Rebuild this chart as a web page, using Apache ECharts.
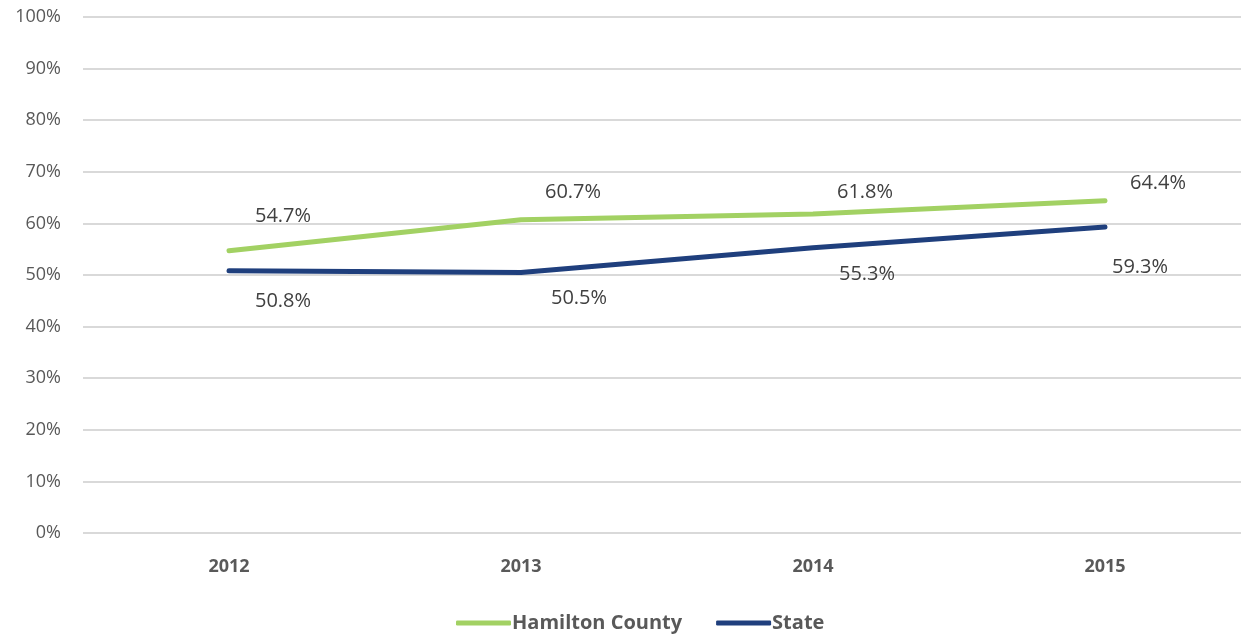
<!DOCTYPE html>
<html>
<head>
<meta charset="utf-8">
<script src="https://cdn.jsdelivr.net/npm/echarts@6/dist/echarts.min.js"></script>
<style>
  html, body { margin: 0; padding: 0; background: #fff; }
  #chart { width: 1241px; height: 635px; }
</style>
</head>
<body>
<div id="chart"></div>
<script>
// data
var years = ['2012', '2013', '2014', '2015'];
var hamilton = [54.7, 60.7, 61.8, 64.4];
var state = [50.8, 50.5, 55.3, 59.3];

// label offsets (layout only)
var hamiltonOffsets = [[54, -34], [52, -27], [52, -22], [53, -17]];
var stateOffsets = [[54, 30], [58, 26], [54, 27], [35, 40]];

var font = '"Open Sans", "Liberation Sans", sans-serif';

function withOffsets(values, offsets) {
    return values.map(function (v, i) {
        return { value: v, label: { offset: offsets[i] } };
    });
}

var myChart = echarts.init(document.getElementById('chart'));
var option = {
    animation: false,
    grid: { left: 83, width: 1168, top: 17, bottom: 102, outerBoundsMode: 'none' },
    legend: {
        bottom: -3,
        left: 451,
        itemWidth: 55,
        itemHeight: 5,
        itemGap: 34,
        icon: 'roundRect',
        textStyle: { fontFamily: font, fontSize: 20, fontWeight: 'bold', color: '#595959', padding: [0, 0, 0, -4] },
        data: ['Hamilton County', 'State']
    },
    xAxis: {
        type: 'category',
        data: years,
        boundaryGap: true,
        axisLine: { show: false },
        axisTick: { show: false },
        axisLabel: { fontFamily: font, fontSize: 18, fontWeight: 'bold', color: '#595959', margin: 25 }
    },
    yAxis: {
        type: 'value',
        min: 0,
        max: 100,
        interval: 10,
        axisLine: { show: false },
        axisTick: { show: false },
        axisLabel: { fontFamily: font, fontSize: 18, color: '#595959', margin: 22, formatter: '{value}%' },
        splitLine: { lineStyle: { color: '#d9d9d9', width: 2 } }
    },
    series: [
        {
            name: 'Hamilton County',
            type: 'line',
            data: withOffsets(hamilton, hamiltonOffsets),
            symbol: 'circle',
            symbolSize: 0.01,
            showSymbol: true,
            lineStyle: { color: '#a2d163', width: 5, cap: 'round' },
            itemStyle: { color: '#a2d163' },
            label: {
                show: true, position: 'inside',
                fontFamily: font, fontSize: 20, color: '#404040',
                formatter: function (p) { return p.value.toFixed(1) + '%'; }
            }
        },
        {
            name: 'State',
            type: 'line',
            data: withOffsets(state, stateOffsets),
            symbol: 'circle',
            symbolSize: 0.01,
            showSymbol: true,
            lineStyle: { color: '#1f3f7d', width: 5, cap: 'round' },
            itemStyle: { color: '#1f3f7d' },
            label: {
                show: true, position: 'inside',
                fontFamily: font, fontSize: 20, color: '#404040',
                formatter: function (p) { return p.value.toFixed(1) + '%'; }
            }
        }
    ]
};
myChart.setOption(option);
window.addEventListener('resize', function () {
    myChart.resize();
});
</script>
</body>
</html>
